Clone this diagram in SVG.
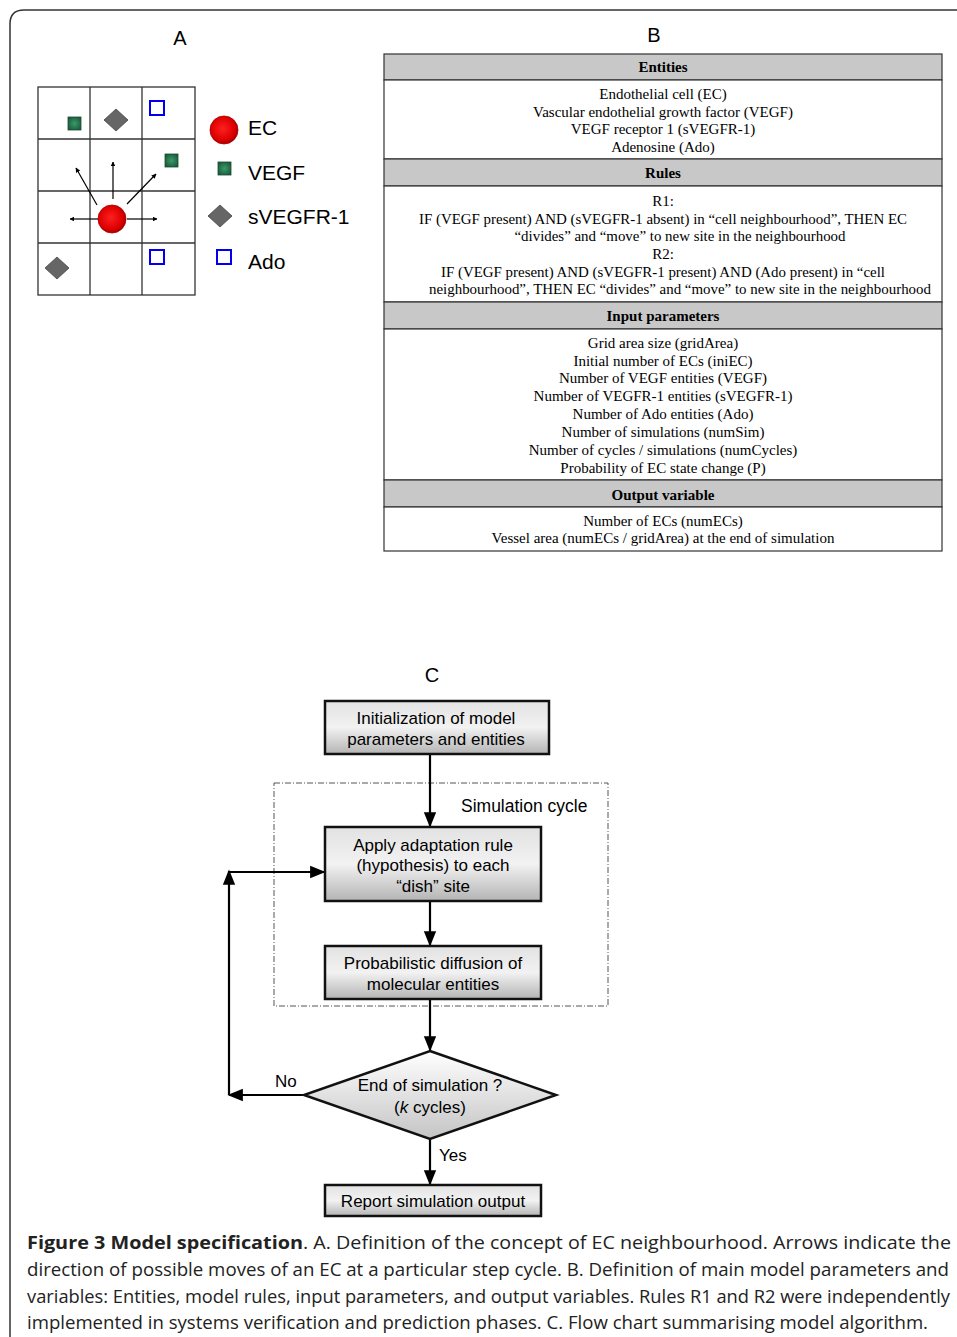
<svg xmlns="http://www.w3.org/2000/svg" width="957" height="1337" viewBox="0 0 957 1337">
<defs>
<style>
.sans{font-family:"Liberation Sans",Arial,sans-serif;fill:#000}
.serif{font-family:"Liberation Serif","Times New Roman",serif;fill:#000;font-size:15px}
.hdr{font-weight:bold}
.cap{font-family:"Open Sans","Liberation Sans",sans-serif;font-size:18px;fill:#222}
.grid{stroke:#333;stroke-width:1.3;fill:none}
.box{stroke:#111;stroke-width:2.5;fill:url(#boxg)}
.conn{stroke:#000;stroke-width:2.2;fill:none}
.thin{stroke:#000;stroke-width:1.2;fill:none}
.hrow{fill:#c8c8c8;stroke:#333;stroke-width:1.2}
.brow{fill:#fff;stroke:#333;stroke-width:1.2}
</style>
<linearGradient id="boxg" x1="0" y1="0" x2="0" y2="1">
<stop offset="0" stop-color="#e2e2e2"/>
<stop offset="0.5" stop-color="#f2f2f2"/>
<stop offset="1" stop-color="#b4b4b4"/>
</linearGradient>
<linearGradient id="diag" x1="0" y1="0" x2="0" y2="1">
<stop offset="0" stop-color="#ffffff"/>
<stop offset="1" stop-color="#c4c4c4"/>
</linearGradient>
<radialGradient id="ecg" cx="0.45" cy="0.45" r="0.6">
<stop offset="0" stop-color="#ff2020"/>
<stop offset="0.7" stop-color="#dd0000"/>
<stop offset="1" stop-color="#990000"/>
</radialGradient>
<radialGradient id="vg" cx="0.5" cy="0.5" r="0.6">
<stop offset="0" stop-color="#3a9a6a"/>
<stop offset="1" stop-color="#1a5a3a"/>
</radialGradient>
<marker id="ah" viewBox="0 0 10 10" refX="9" refY="5" markerWidth="4" markerHeight="4" orient="auto">
<path d="M0,0 L10,5 L0,10 z" fill="#000"/>
</marker>
<marker id="sa" viewBox="0 0 10 10" refX="9" refY="5" markerWidth="7" markerHeight="7" orient="auto">
<path d="M0,1 L10,5 L0,9 z" fill="#000"/>
</marker>
</defs>
<rect width="957" height="1337" fill="#fff"/>
<path d="M10,1337 V24 Q10,10 24,10 H957" fill="none" stroke="#333" stroke-width="1.5"/>

<!-- Panel A -->
<g id="panelA">
<text class="sans" x="180" y="45" font-size="20" text-anchor="middle">A</text>
<g id="grid">
<rect class="grid" x="38" y="87" width="157" height="208"/>
<line class="grid" x1="90" y1="87" x2="90" y2="295"/>
<line class="grid" x1="142" y1="87" x2="142" y2="295"/>
<line class="grid" x1="38" y1="139" x2="195" y2="139"/>
<line class="grid" x1="38" y1="191" x2="195" y2="191"/>
<line class="grid" x1="38" y1="243" x2="195" y2="243"/>
</g>
<g id="grid-items">
<rect x="68" y="117" width="13" height="13" fill="url(#vg)" stroke="#1a4a30" stroke-width="0.8"/>
<rect x="165" y="154" width="13" height="13" fill="url(#vg)" stroke="#1a4a30" stroke-width="0.8"/>
<path d="M116,109 L128,120 L116,131 L104,120 z" fill="#666" stroke="#444" stroke-width="0.8"/>
<path d="M57,257 L69,268 L57,279 L45,268 z" fill="#666" stroke="#444" stroke-width="0.8"/>
<rect x="150" y="101" width="14" height="14" fill="none" stroke="#0000ee" stroke-width="2"/>
<rect x="150" y="250" width="14" height="14" fill="none" stroke="#0000ee" stroke-width="2"/>
<line class="thin" x1="98" y1="219" x2="70" y2="219" marker-end="url(#ah)"/>
<line class="thin" x1="127" y1="219" x2="157" y2="219" marker-end="url(#ah)"/>
<line class="thin" x1="113" y1="199" x2="113" y2="162" marker-end="url(#ah)"/>
<line class="thin" x1="97" y1="205" x2="76" y2="168" marker-end="url(#ah)"/>
<line class="thin" x1="127" y1="204" x2="156" y2="174" marker-end="url(#ah)"/>
<circle cx="112" cy="219" r="14" fill="url(#ecg)" stroke="#aa0000" stroke-width="0.8"/>
</g>
<g id="legend">
<circle cx="224" cy="130" r="14" fill="url(#ecg)" stroke="#aa0000" stroke-width="0.8"/>
<text class="sans" x="248" y="135" font-size="21">EC</text>
<rect x="218" y="162" width="13" height="13" fill="url(#vg)" stroke="#1a4a30" stroke-width="0.8"/>
<text class="sans" x="248" y="180" font-size="21">VEGF</text>
<path d="M220,205 L232,216 L220,227 L208,216 z" fill="#666" stroke="#444" stroke-width="0.8"/>
<text class="sans" x="248" y="224" font-size="21">sVEGFR-1</text>
<rect x="217" y="250" width="14" height="14" fill="none" stroke="#0000ee" stroke-width="2"/>
<text class="sans" x="248" y="269" font-size="21">Ado</text>
</g>
</g>

<!-- Panel B -->
<g id="panelB">
<text class="sans" x="654" y="42" font-size="20" text-anchor="middle">B</text>
<rect class="hrow" x="384" y="54" width="558" height="26"/>
<rect class="brow" x="384" y="80" width="558" height="79"/>
<rect class="hrow" x="384" y="159" width="558" height="27"/>
<rect class="brow" x="384" y="186" width="558" height="116"/>
<rect class="hrow" x="384" y="302" width="558" height="27"/>
<rect class="brow" x="384" y="329" width="558" height="151"/>
<rect class="hrow" x="384" y="480" width="558" height="27"/>
<rect class="brow" x="384" y="507" width="558" height="44"/>
<g text-anchor="middle" class="serif">
<text class="serif hdr" x="663" y="72">Entities</text>
<text x="663" y="99">Endothelial cell (EC)</text>
<text x="663" y="117">Vascular endothelial growth factor (VEGF)</text>
<text x="663" y="134">VEGF receptor 1 (sVEGFR-1)</text>
<text x="663" y="152">Adenosine (Ado)</text>
<text class="serif hdr" x="663" y="178">Rules</text>
<text x="663" y="206">R1:</text>
<text x="663" y="224" textLength="488" lengthAdjust="spacingAndGlyphs">IF (VEGF present) AND (sVEGFR-1 absent) in “cell neighbourhood”, THEN EC</text>
<text x="680" y="241" textLength="331" lengthAdjust="spacingAndGlyphs">“divides” and “move” to new site in the neighbourhood</text>
<text x="663" y="259">R2:</text>
<text x="663" y="277" textLength="444" lengthAdjust="spacingAndGlyphs">IF (VEGF present) AND (sVEGFR-1 present) AND (Ado present) in “cell</text>
<text x="680" y="294" textLength="502" lengthAdjust="spacingAndGlyphs">neighbourhood”, THEN EC “divides” and “move” to new site in the neighbourhood</text>
<text class="serif hdr" x="663" y="321">Input parameters</text>
<text x="663" y="348">Grid area size (gridArea)</text>
<text x="663" y="366">Initial number of ECs (iniEC)</text>
<text x="663" y="383">Number of VEGF entities (VEGF)</text>
<text x="663" y="401">Number of VEGFR-1 entities (sVEGFR-1)</text>
<text x="663" y="419">Number of Ado entities (Ado)</text>
<text x="663" y="437">Number of simulations (numSim)</text>
<text x="663" y="455">Number of  cycles / simulations (numCycles)</text>
<text x="663" y="473">Probability of EC state change (P)</text>
<text class="serif hdr" x="663" y="500">Output variable</text>
<text x="663" y="526">Number of ECs (numECs)</text>
<text x="663" y="543">Vessel area (numECs / gridArea) at the end of simulation</text>
</g>
</g>

<!-- Panel C -->
<text class="sans" x="432" y="682" font-size="20" text-anchor="middle">C</text>
<g id="cycle">
<rect x="274" y="783" width="334" height="223" fill="none" stroke="#555" stroke-width="1" stroke-dasharray="6,2,1,2"/>
<text class="sans" x="461" y="812" font-size="17.5">Simulation cycle</text>
</g>
<g id="connectors">
<line class="conn" x1="430" y1="754" x2="430" y2="826" marker-end="url(#sa)"/>
<line class="conn" x1="430" y1="901" x2="430" y2="945" marker-end="url(#sa)"/>
<line class="conn" x1="430" y1="999" x2="430" y2="1050" marker-end="url(#sa)"/>
<line class="conn" x1="430" y1="1139" x2="430" y2="1184" marker-end="url(#sa)"/>
<line class="conn" x1="304" y1="1095" x2="229" y2="1095" marker-end="url(#sa)"/>
<line class="conn" x1="229" y1="1095" x2="229" y2="871" marker-end="url(#sa)"/>
<line class="conn" x1="229" y1="872" x2="324" y2="872" marker-end="url(#sa)"/>
<text class="sans" x="275" y="1087" font-size="17">No</text>
<text class="sans" x="439" y="1161" font-size="17">Yes</text>
</g>
<g id="init">
<rect class="box" x="325" y="701" width="224" height="53"/>
<text class="sans" x="436" y="724" font-size="17" text-anchor="middle">Initialization of model</text>
<text class="sans" x="436" y="745" font-size="17" text-anchor="middle">parameters and entities</text>
</g>
<g id="apply">
<rect class="box" x="325" y="827" width="216" height="74"/>
<text class="sans" x="433" y="851" font-size="17" text-anchor="middle">Apply adaptation rule</text>
<text class="sans" x="433" y="871" font-size="17" text-anchor="middle">(hypothesis) to each</text>
<text class="sans" x="433" y="892" font-size="17" text-anchor="middle">“dish” site</text>
</g>
<g id="diffusion">
<rect class="box" x="325" y="946" width="216" height="53"/>
<text class="sans" x="433" y="969" font-size="17" text-anchor="middle">Probabilistic diffusion of</text>
<text class="sans" x="433" y="990" font-size="17" text-anchor="middle">molecular entities</text>
</g>
<g id="decision">
<path d="M430,1051 L556,1095 L430,1139 L304,1095 z" fill="url(#diag)" stroke="#111" stroke-width="2.5"/>
<text class="sans" x="430" y="1091" font-size="17" text-anchor="middle">End of simulation ?</text>
<text class="sans" x="430" y="1113" font-size="17" text-anchor="middle">(<tspan font-style="italic">k</tspan> cycles)</text>
</g>
<g id="report">
<rect class="box" x="325" y="1185" width="216" height="31"/>
<text class="sans" x="433" y="1207" font-size="17" text-anchor="middle">Report simulation output</text>
</g>

<!-- Caption -->
<g id="caption">
<text class="cap" x="27" y="1249" font-weight="bold" textLength="276" lengthAdjust="spacingAndGlyphs">Figure 3 Model specification</text>
<text class="cap" x="303" y="1249" textLength="648" lengthAdjust="spacingAndGlyphs">. A. Definition of the concept of EC neighbourhood. Arrows indicate the</text>
<text class="cap" x="27" y="1276" textLength="922" lengthAdjust="spacingAndGlyphs">direction of possible moves of an EC at a particular step cycle. B. Definition of main model parameters and</text>
<text class="cap" x="27" y="1303" textLength="923" lengthAdjust="spacingAndGlyphs">variables: Entities, model rules, input parameters, and output variables. Rules R1 and R2 were independently</text>
<text class="cap" x="27" y="1329" textLength="901" lengthAdjust="spacingAndGlyphs">implemented in systems verification and prediction phases. C. Flow chart summarising model algorithm.</text>
</g>
</svg>
